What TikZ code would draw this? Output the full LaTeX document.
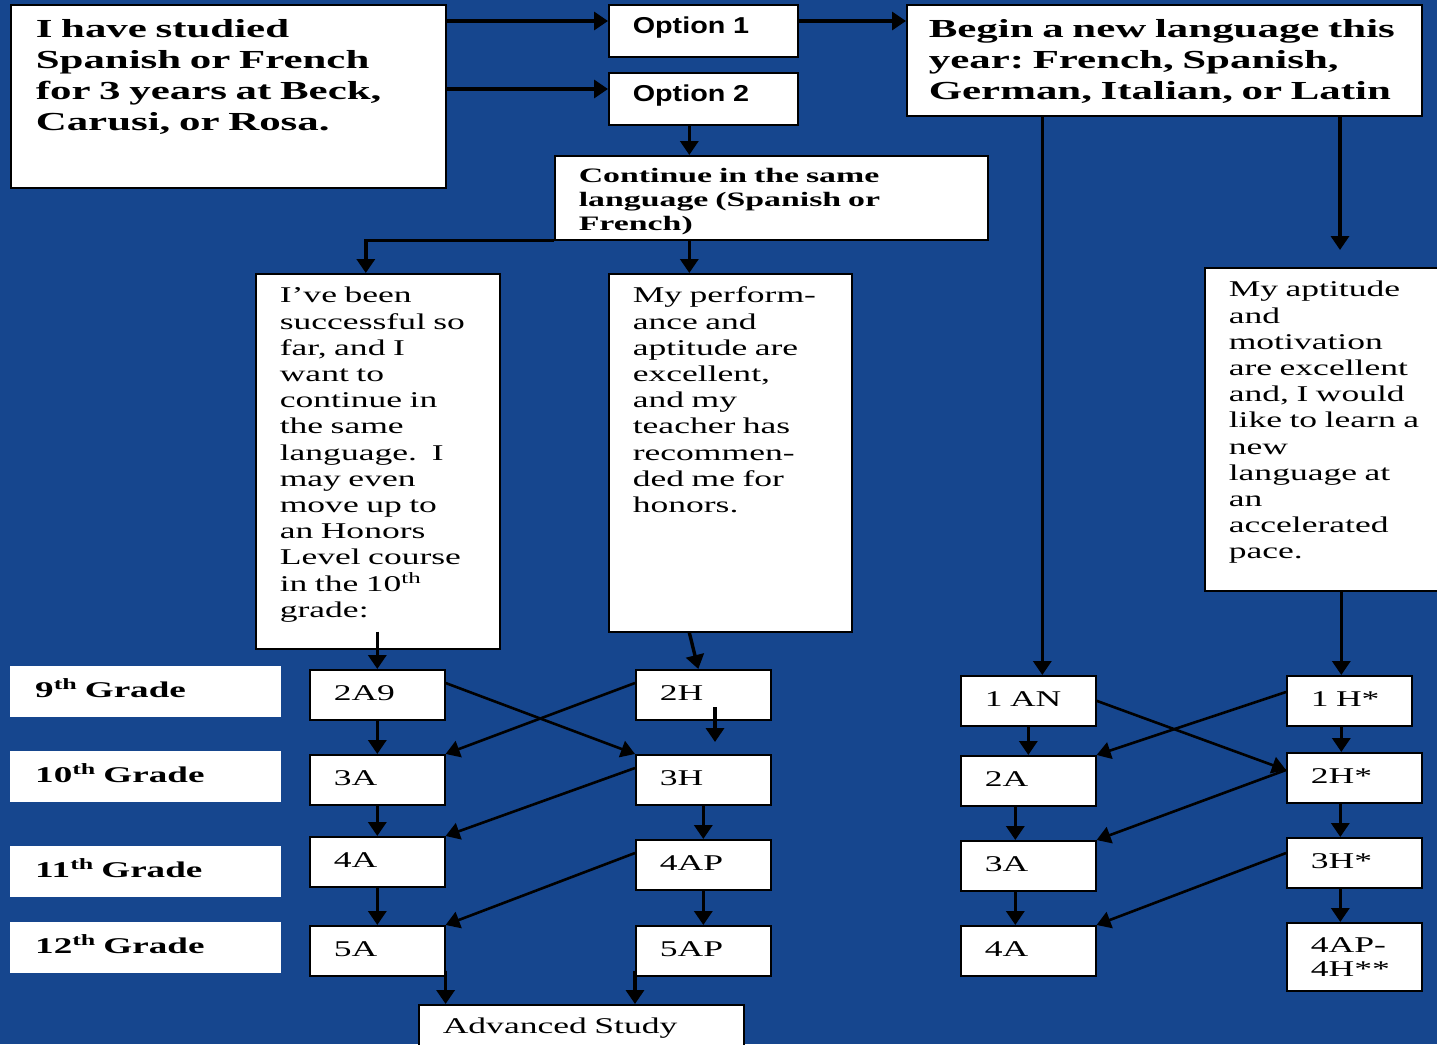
\documentclass[tikz,border=0pt]{standalone}
\usepackage{fontspec}
\setmainfont{Liberation Serif}[FakeStretch=1.58,BoldFeatures={FakeStretch=1.65}]
\setsansfont{Liberation Sans}[FakeStretch=1.25]
\usetikzlibrary{arrows.meta}
\definecolor{slideblue}{RGB}{22,70,142}
\hyphenpenalty=10000
\exhyphenpenalty=10000
\frenchspacing

\begin{document}
\begin{tikzpicture}[x=1pt,y=-1pt,
  box/.style={draw,line width=1.6pt,fill=white,anchor=north west,inner ysep=0pt,inner xsep=24pt,align=left},
  big text/.style={font=\bfseries\fontsize{26}{30.8}\selectfont},
  mid text/.style={font=\bfseries\fontsize{20.5}{24}\selectfont},
  body text/.style={font=\fontsize{22.5}{26.2}\selectfont},
  option node/.style={box,minimum width=189pt,minimum height=52pt,text width=141pt,text height=13pt,text depth=7pt,font=\sffamily\bfseries\fontsize{23}{27}\selectfont},
  course node/.style={box,minimum width=135pt,minimum height=50pt,text width=87pt,text height=16pt,text depth=5pt,font=\fontsize{22.5}{26}\selectfont},
  grade node/.style={fill=white,anchor=north west,inner ysep=0pt,inner xsep=25pt,align=left,minimum width=271pt,minimum height=51pt,text width=221pt,text height=16pt,text depth=5pt,font=\bfseries\fontsize{22.5}{27}\selectfont},
  arr/.style={-{Triangle[length=14pt,width=18pt]},line width=3.4pt},
  cross/.style={-{Triangle[length=14pt,width=17pt]},line width=2.6pt}]

  \useasboundingbox (0,0) rectangle (1437,1044);
  \clip (0,0) rectangle (1437,1044);
  \fill[slideblue] (0,0) rectangle (1437,1044);

  % start and the two options
  \node[box,big text,inner xsep=25pt,text width=385pt,text height=33pt,text depth=150pt] (study) at (10,4) {I have studied\\Spanish or French\\for 3 years at Beck,\\Carusi, or Rosa.};
  \node[option node] (opt1) at (608,4) {Option 1};
  \node[option node] (opt2) at (608,72) {Option 2};
  \node[box,big text,inner xsep=22pt,text width=471pt,text height=33pt,text depth=78pt] (begin) at (906,4) {Begin a new language this\\year: French, Spanish,\\German, Italian, or Latin};
  \node[box,mid text,text width=385pt,text height=27pt,text depth=57pt] (cont) at (554,155) {Continue in the same\\language (Spanish or\\French)};

  % the three reasons
  \node[box,body text,text width=196pt,text height=29pt,text depth=346pt] (succ) at (255,273) {I’ve been\\successful so\\far, and I\\want to\\continue in\\the same\\language.\ \ I\\may even\\move up to\\an Honors\\Level course\\in the 10\textsuperscript{th}\\grade:};
  \node[box,body text,text width=195pt,text height=29pt,text depth=329pt] (perf) at (608,273) {My perform-\\ance and\\aptitude are\\excellent,\\and my\\teacher has\\recommen-\\ded me for\\honors.};
  \node[box,body text,text width=202pt,text height=29pt,text depth=294pt] (apt) at (1204,267) {My aptitude\\and\\motivation\\are excellent\\and, I would\\like to learn a\\new\\language at\\an\\accelerated\\pace.};

  % grades
  \node[grade node] (g9) at (10,666) {9\textsuperscript{th} Grade};
  \node[grade node] (g10) at (10,751) {10\textsuperscript{th} Grade};
  \node[grade node] (g11) at (10,846) {11\textsuperscript{th} Grade};
  \node[grade node] (g12) at (10,922) {12\textsuperscript{th} Grade};

  % same language
  \node[course node] (a2) at (309,669) {2A9};
  \node[course node] (a3) at (309,754) {3A};
  \node[course node] (a4) at (309,836) {4A};
  \node[course node] (a5) at (309,925) {5A};
  \node[course node] (h2) at (635,669) {2H};
  \node[course node] (h3) at (635,754) {3H};
  \node[course node] (h4) at (635,839) {4AP};
  \node[course node] (h5) at (635,925) {5AP};
  \node[box,body text,text width=277pt,text height=29pt,text depth=31pt] (adv) at (418,1004) {Advanced Study};

  % new language
  \node[course node] (n1) at (960,675) {1 AN};
  \node[course node] (n2) at (960,755) {2A};
  \node[course node] (n3) at (960,840) {3A};
  \node[course node] (n4) at (960,925) {4A};
  \node[course node,minimum width=125pt,text width=77pt] (s1) at (1286,675) {1 H*};
  \node[course node] (s2) at (1286,752) {2H*};
  \node[course node] (s3) at (1286,837) {3H*};
  \node[box,font=\fontsize{22.5}{24}\selectfont,text width=87pt,text height=30pt,text depth=38pt] (s4) at (1286,922) {4AP-\\4H**};

  \draw[arr] ([yshift=-17pt]study.north east) -- ([yshift=-17pt]opt1.north west);
  \draw[arr] ([yshift=-85pt]study.north east) -- ([yshift=-17pt]opt2.north west);
  \draw[arr] ([yshift=-17pt]opt1.north east) -- ([yshift=-17pt]begin.north west);
  \draw[arr] ([xshift=-14pt]opt2.south) -- ([xshift=-14pt]opt2.south |- cont.north);

  \draw[arr] (cont.south west) -| ([xshift=-12pt]succ.north);
  \draw[arr] ([xshift=-41pt]perf.north |- cont.south) -- ([xshift=-41pt]perf.north);

  \coordinate (aptin) at (1340,250);
  \draw[arr] ([xshift=14pt]n1.north |- begin.south) -- ([xshift=14pt]n1.north);
  \draw[arr] (aptin |- begin.south) -- (aptin);
  \draw[arr] ([xshift=-8pt]s1.north |- apt.south) -- ([xshift=-8pt]s1.north);

  \draw[arr] ([yshift=18pt]succ.south -| a2.north) -- (a2.north);
  \draw[arr] ([xshift=-41pt]perf.south) -- ([xshift=-5pt]h2.north);

  \path[arr]
    (a2) edge (a3)
    (a3) edge (a4)
    (a4) edge (a5)
    ([xshift=80pt,yshift=-38pt]h2.north west) edge ([xshift=80pt,yshift=12pt]h3.north west)
    (h3) edge (h4)
    (h4) edge (h5);
  \path[cross]
    ([yshift=-14pt]a2.north east) edge (h3.north west)
    ([yshift=-14pt]h2.north west) edge (a3.north east)
    ([yshift=-14pt]h3.north west) edge (a4.north east)
    ([yshift=-14pt]h4.north west) edge (a5.north east);

  \draw[arr] ([yshift=6pt]a5.south east) -- (a5.south east |- adv.north);
  \draw[arr] ([yshift=6pt]h5.south west) -- (h5.south west |- adv.north);

  \path[arr]
    (n1) edge (n2)
    ([xshift=-8pt]s1.south) edge ([xshift=-8pt]s1.south |- s2.north)
    ([xshift=-13pt]n2.south) edge ([xshift=-13pt]n3.north)
    ([xshift=-14pt]s2.south) edge ([xshift=-14pt]s3.north)
    ([xshift=-13pt]n3.south) edge ([xshift=-13pt]n4.north)
    ([xshift=-14pt]s3.south) edge ([xshift=-14pt]s4.north);
  \path[cross]
    (n1.east) edge ([yshift=-18pt]s2.north west)
    ([yshift=-17pt]s1.north west) edge (n2.north east)
    ([yshift=-18pt]s2.north west) edge (n3.north east)
    ([yshift=-16pt]s3.north west) edge (n4.north east);

\end{tikzpicture}
\end{document}
